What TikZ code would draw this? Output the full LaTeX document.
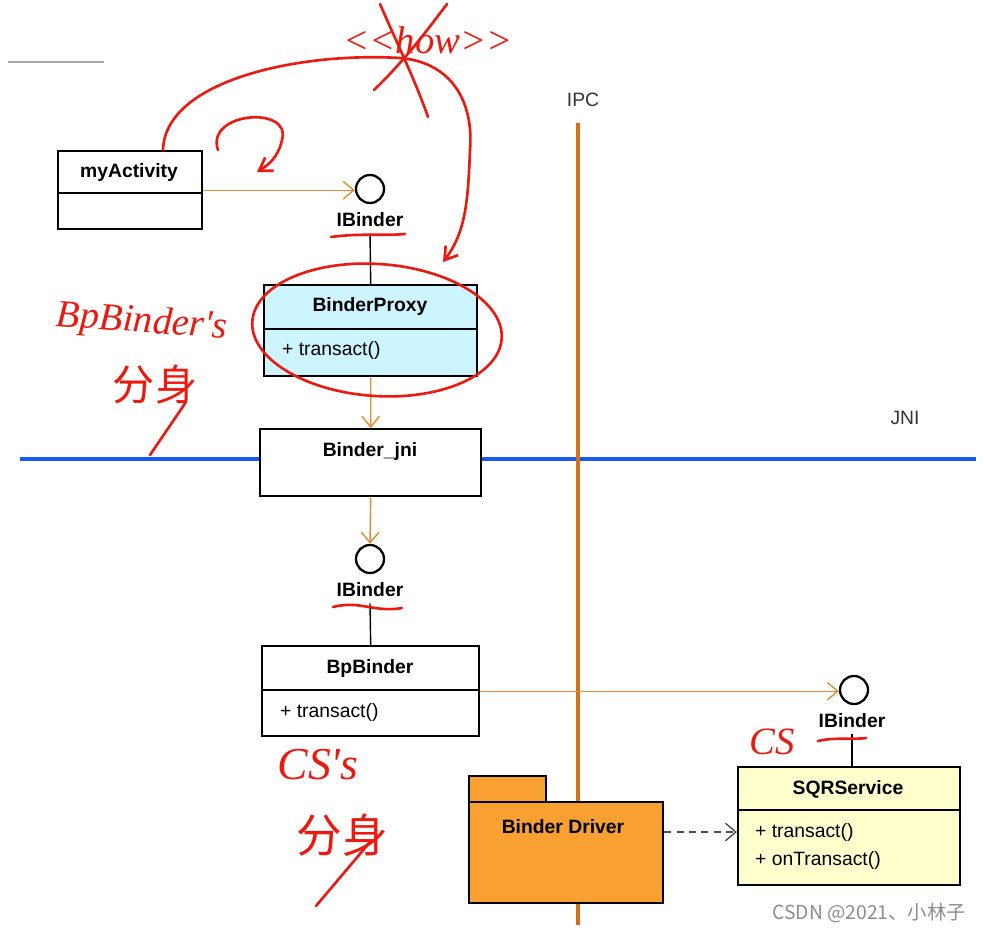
\documentclass[tikz,border=0pt]{standalone}
\usepackage{fontspec}
\setmainfont{Liberation Sans}
\newfontfamily\cjk{Noto Sans CJK SC}
\newfontfamily\handfont{Liberation Serif}
\usetikzlibrary{arrows.meta,calc,positioning}

\definecolor{arrorange}{RGB}{225,140,50}
\definecolor{ipcorange}{RGB}{210,110,30}
\definecolor{jniblue}{RGB}{20,90,240}
\definecolor{proxycyan}{RGB}{205,245,255}
\definecolor{svcyellow}{RGB}{255,255,205}
\definecolor{drvorange}{RGB}{248,160,50}
\definecolor{inkred}{RGB}{235,25,15}

\tikzset{
  clsbox/.style={draw,line width=1.4pt,inner sep=0pt,anchor=north west,fill=white},
  ttl/.style={font=\bfseries\fontsize{11}{13}\selectfont},
  op/.style={font=\fontsize{11}{13}\selectfont,anchor=west},
  lbl/.style={font=\fontsize{11}{13}\selectfont,text=black!80},
  sep/.style={line width=0.8pt},
  iface/.style={draw,circle,line width=1.3pt,minimum size=0.56cm,inner sep=0pt,fill=white},
  dep/.style={draw=arrorange,line width=0.8pt,-{Straight Barb[length=6pt,width=10pt]}},
  ink/.style={draw=inkred,line width=1.5pt,line cap=round},
  hand/.style={text=inkred,font=\handfont\itshape\fontsize{22}{24}\selectfont},
  handcjk/.style={text=inkred,font=\cjk\fontsize{24}{26}\selectfont}
}

\begin{document}
\begin{tikzpicture}[x=0.02cm,y=-0.02cm]
  \useasboundingbox (0,0) rectangle (984,933);
  \draw[gray!70,line width=0.8pt] (8,62) -- (104,62);
  % the two borders
  \draw[jniblue,line width=2.2pt] (20,459) -- (976,459);
  \draw[ipcorange,line width=2.8pt] (578,123) -- (578,925);
  \node[lbl] (ipc) at (583,100) {IPC};
  \node[lbl] (jni) at (905,418) {JNI};

  % myActivity
  \node[clsbox,minimum width=2.88cm,minimum height=1.56cm] (act) at (57,150) {};
  \node[ttl] (actname) at (129,173) {myActivity};
  \draw[sep] (57,193) -- (201,193);
  \node[iface] (ib1) at (370,189) {};
  \node[ttl] (ib1name) at (370,220) {IBinder};
  \draw[dep] (act.east) -- (act.east -| ib1.west);

  % BinderProxy
  \node[clsbox,fill=proxycyan,minimum width=4.26cm,minimum height=1.82cm] (proxy) at (263,284) {};
  \node[ttl] (proxyname) at (370,307) {BinderProxy};
  \draw[sep] (263,329) -- (476,329);
  \node[op] (proxyop) at (276,350) {+ transact()};
  \draw[line width=0.8pt] (ib1name.south) -- (proxy.north);

  % Binder_jni
  \node[clsbox,minimum width=4.42cm,minimum height=1.34cm] (bjni) at (259,428) {};
  \node[ttl] (bjniname) at (370,451) {Binder\_jni};
  \draw[dep] (proxy.south) -- (bjni.north);
  \node[iface] (ib2) at (370,559) {};
  \node[ttl] (ib2name) at (370,590) {IBinder};
  \draw[dep] (bjni.south) -- (ib2.north);

  % BpBinder
  \node[clsbox,minimum width=4.34cm,minimum height=1.8cm] (bp) at (261,645) {};
  \node[ttl] (bpname) at (370,668) {BpBinder};
  \draw[sep] (261,690) -- (478,690);
  \node[op] (bpop) at (274,712) {+ transact()};
  \draw[line width=0.8pt] (ib2name.south) -- (bp.north);

  % SQRService
  \node[iface] (ib3) at (854,690) {};
  \node[ttl] (ib3name) at (852,721) {IBinder};
  \draw[dep] (bp.east) -- (bp.east -| ib3.west);
  \node[clsbox,fill=svcyellow,minimum width=4.44cm,minimum height=2.36cm] (sqr) at (737,766) {};
  \node[ttl] (sqrname) at (848,789) {SQRService};
  \draw[sep] (737,810) -- (959,810);
  \node[op] (sqrop1) at (749,832) {+ transact()};
  \node[op] (sqrop2) at (749,860) {+ onTransact()};
  \draw[line width=0.8pt] (ib3name.south) -- (ib3name.south |- sqr.north);

  % Binder Driver package
  \node[clsbox,fill=drvorange,minimum width=1.54cm,minimum height=0.54cm] (drvtab) at (468,775) {};
  \node[clsbox,fill=drvorange,minimum width=3.88cm,minimum height=2.02cm] (driver) at (468,801) {};
  \node[ttl] (drvname) at (563,827) {Binder Driver};
  \draw[black!70,line width=0.8pt,dash pattern=on 4pt off 3pt,-{Straight Barb[length=6pt,width=10pt]}]
    (driver.north east) ++(0,31) coordinate (dd) -- (dd -| sqr.west);

  % red notes
  \draw[ink,-{Straight Barb[length=7pt,width=9pt]}] (163,150) .. controls (165,80) and (300,52) .. (400,58)
    .. controls (450,62) and (474,100) .. (470,150) .. controls (468,200) and (466,232) .. (443,262);
  \node[hand] (how) at (428,40) {<{}<how>{}>};
  \draw[ink] (380,4) .. controls (400,50) and (415,80) .. (428,117);
  \draw[ink] (447,4) .. controls (420,40) and (400,65) .. (374,90);
  \draw[ink,-{Straight Barb[length=7pt,width=9pt]}] (218,150) .. controls (205,112) and (292,105) .. (282,140)
    .. controls (278,158) and (268,165) .. (257,172);
  \draw[ink] (331,237) .. controls (360,233) and (385,236) .. (405,234);
  \draw[ink] (333,607) .. controls (360,600) and (375,613) .. (402,608);
  \draw[ink] (818,741) .. controls (835,737) and (850,740) .. (866,738);
  \draw[ink] (377,330) ellipse [x radius=2.5cm,y radius=1.32cm,rotate=-4];
  \node[hand,rotate=-4] (bpnote) at (142,323) {BpBinder's};
  \node[handcjk] (bpnote2) at (155,385) {分身};
  \draw[ink] (150,455) -- (186,402);
  \node[hand,font=\handfont\itshape\fontsize{26}{28}\selectfont] (csnote) at (318,765) {CS's};
  \node[handcjk,font=\cjk\fontsize{26}{28}\selectfont] (csnote2) at (342,835) {分身};
  \draw[ink] (316,906) -- (370,842);
  \node[hand] (csmark) at (772,742) {CS};

  \node[anchor=east,text=black!45,font=\cjk\fontsize{11}{13}\selectfont] (wm) at (972,913) {CSDN @2021、小林子};
\end{tikzpicture}
\end{document}
